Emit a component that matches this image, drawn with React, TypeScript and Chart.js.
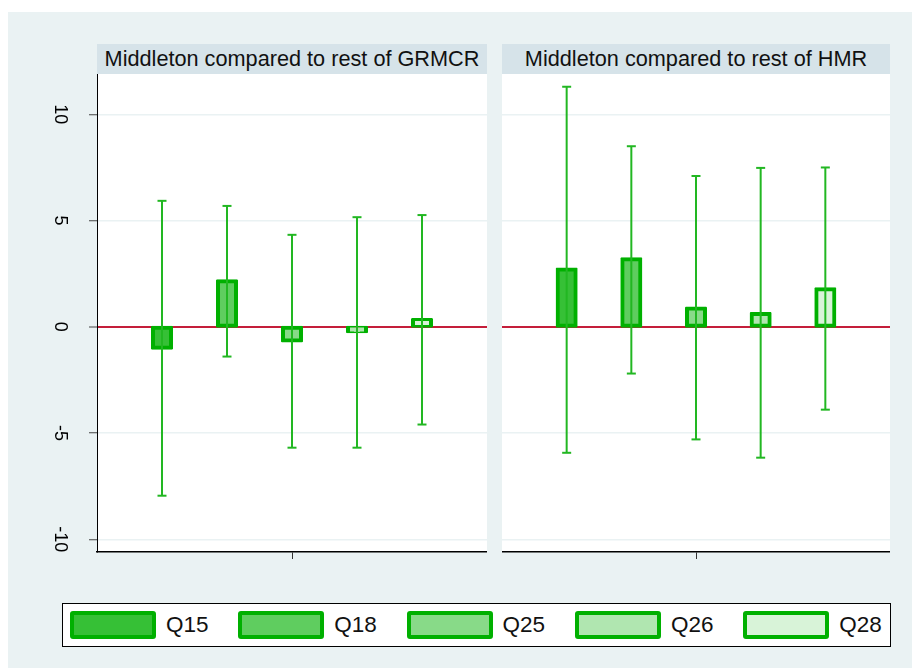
import React, { useEffect, useRef } from 'react';
import { Chart, registerables } from 'chart.js';

Chart.register(...registerables);
Chart.defaults.font.family = '"Liberation Sans", Arial, sans-serif';

// ---- data ----
const questions = ['Q15', 'Q18', 'Q25', 'Q26', 'Q28'];
const positions = [1, 2, 3, 4, 5];
const grmcrDiff = [-0.99, 2.14, -0.64, -0.21, 0.32];
const grmcrLow = [-7.95, -1.4, -5.69, -5.69, -4.6];
const grmcrHigh = [5.93, 5.69, 4.33, 5.16, 5.26];
const hmrDiff = [2.7, 3.18, 0.86, 0.6, 1.77];
const hmrLow = [-5.93, -2.2, -5.3, -6.16, -3.9];
const hmrHigh = [11.3, 8.5, 7.1, 7.48, 7.5];
const yTicks = [-10, -5, 0, 5, 10];
const xTicks = [3];
const panelTitles = ['Middleton compared to rest of GRMCR', 'Middleton compared to rest of HMR'];

// ---- styles ----
const fills = ['#36C036', '#5FCD5F', '#88DA88', '#B0E6B0', '#D8F3D8'];
const BORDER_GREEN = '#00B000';
const ERR_GREEN = '#22B722';
const BG = '#EAF2F3';
const STRIP = '#D6E3E9';
const FONT = '"Liberation Sans", Arial, sans-serif';

const whitePlot = {
  id: 'whitePlot',
  beforeDraw(chart: any) {
    const { ctx, chartArea } = chart;
    ctx.save();
    ctx.fillStyle = '#ffffff';
    ctx.fillRect(chartArea.left, chartArea.top, chartArea.right - chartArea.left, chartArea.bottom - chartArea.top);
    ctx.restore();
  },
};

function Panel(props: { diff: number[]; low: number[]; high: number[]; showY: boolean; left: number; width: number }) {
  const ref = useRef<HTMLCanvasElement>(null);
  const { diff, low, high, showY, left, width } = props;
  useEffect(() => {
    if (!ref.current) return;
    const barSets: any[] = questions.map((q, i) => ({
      type: 'bar',
      label: q,
      data: [{ x: positions[i], y: [0, diff[i]] }],
      backgroundColor: fills[i],
      borderColor: BORDER_GREEN,
      borderWidth: 4,
      borderSkipped: false,
      inflateAmount: 2,
      borderRadius: 1,
      barThickness: 18,
      grouped: false,
      order: 2,
    }));
    const errSet: any = {
      type: 'bar',
      label: 'ci',
      data: positions.map((p, i) => ({ x: p, y: [low[i], high[i]] })),
      backgroundColor: ERR_GREEN,
      borderWidth: 0,
      inflateAmount: 0,
      barThickness: 2,
      grouped: false,
      order: 1,
    };
    const capSet: any = {
      type: 'line',
      label: 'caps',
      data: positions.flatMap((p, i) => [{ x: p, y: high[i] }, { x: p, y: low[i] }]),
      showLine: false,
      pointStyle: 'line',
      pointRadius: 4.5,
      pointHoverRadius: 4.5,
      pointBorderWidth: 2,
      pointBorderColor: ERR_GREEN,
      borderColor: ERR_GREEN,
      order: 0,
    };
    const chart = new Chart(ref.current, {
      type: 'bar',
      data: { datasets: [...barSets, errSet, capSet] },
      plugins: [whitePlot],
      options: {
        animation: false,
        responsive: false,
        maintainAspectRatio: false,
        layout: { autoPadding: false, padding: { top: 14, right: 0, bottom: 0, left: 0 } },
        plugins: { legend: { display: false }, tooltip: { enabled: false } },
        scales: {
          x: {
            type: 'linear',
            min: 0,
            max: 6,
            offset: false,
            afterBuildTicks: (s: any) => {
              s.ticks = xTicks.map((v) => ({ value: v }));
            },
            afterFit: (s: any) => {
              s.height = 28;
              s.paddingLeft = 0;
              s.paddingRight = 0;
            },
            grid: { offset: false, drawOnChartArea: false, drawTicks: true, tickLength: 7, tickColor: '#333', tickWidth: 1 },
            border: { display: true, color: '#000', width: 1.5 },
            ticks: { display: true, callback: () => '' },
          },
          y: {
            type: 'linear',
            min: -10.6,
            max: 11.9,
            afterBuildTicks: (s: any) => {
              s.ticks = yTicks.map((v) => ({ value: v }));
            },
            afterFit: (s: any) => {
              s.width = showY ? 89 : 0;
              s.paddingTop = 0;
              s.paddingBottom = 0;
            },
            grid: {
              color: (c: any) => (c.tick && c.tick.value === 0 ? '#C41E3A' : BG),
              lineWidth: (c: any) => (c.tick && c.tick.value === 0 ? 2 : 1.5),
              drawTicks: showY,
              tickLength: 8,
              tickColor: '#444',
              tickWidth: 1,
            },
            border: { display: showY, color: '#000', width: 1 },
            ticks: {
              display: showY,
              minRotation: -90,
              maxRotation: -90,
              crossAlign: 'center',
              padding: 16,
              color: '#000',
              font: { size: 18, family: FONT },
            },
          },
        },
      } as any,
    });
    return () => chart.destroy();
  }, []);
  return (
    <canvas
      ref={ref}
      width={width}
      height={520}
      style={{ position: 'absolute', left, top: 48, width, height: 520 }}
    />
  );
}

export default function App() {
  const stripStyle = (left: number, width: number): React.CSSProperties => ({
    position: 'absolute',
    left,
    top: 32,
    width,
    height: 30,
    background: STRIP,
    fontFamily: FONT,
    fontSize: 21.7,
    color: '#111',
    textAlign: 'center',
    lineHeight: '30px',
    whiteSpace: 'nowrap',
  });
  return (
    <div style={{ position: 'fixed', left: 8, top: 12, width: 904, height: 656, background: BG, overflow: 'hidden' }}>
      <div style={stripStyle(89, 390)}>{panelTitles[0]}</div>
      <div style={stripStyle(494, 388)}>{panelTitles[1]}</div>
      <Panel diff={grmcrDiff} low={grmcrLow} high={grmcrHigh} showY={true} left={0} width={479} />
      <Panel diff={hmrDiff} low={hmrLow} high={hmrHigh} showY={false} left={494} width={388} />
      <div
        style={{
          position: 'absolute',
          left: 54,
          top: 591,
          width: 829,
          height: 44,
          boxSizing: 'border-box',
          border: '1px solid #000',
          background: '#fff',
        }}
      >
        {questions.map((q, i) => (
          <React.Fragment key={q}>
            <div
              style={{
                position: 'absolute',
                left: 7 + 168.3 * i,
                top: 7,
                width: 86,
                height: 28,
                boxSizing: 'border-box',
                border: `4px solid ${BORDER_GREEN}`,
                borderRadius: 3,
                background: fills[i],
              }}
            />
            <div
              style={{
                position: 'absolute',
                left: 103 + 168.3 * i,
                top: 0,
                height: 42,
                lineHeight: '42px',
                fontFamily: FONT,
                fontSize: 22.5,
                color: '#111',
              }}
            >
              {q}
            </div>
          </React.Fragment>
        ))}
      </div>
    </div>
  );
}
